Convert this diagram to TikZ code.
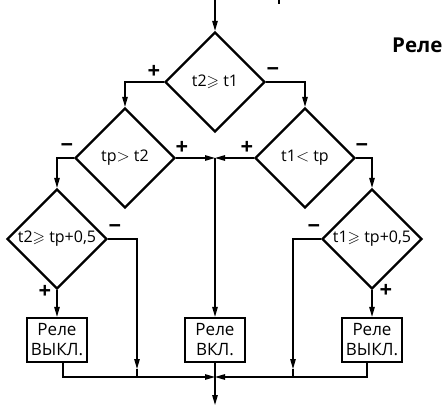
\documentclass[tikz,border=0pt]{standalone}
\usepackage{amssymb}
\usepackage{fontspec}
\setmainfont{Open Sans}
\usetikzlibrary{shapes.geometric,arrows.meta,calc}
\begin{document}
\begin{tikzpicture}[x=1pt,y=-1pt,
  dec/.style={diamond,draw,line width=2.3pt,minimum width=100pt,minimum height=100pt,inner sep=0pt,font=\fontsize{16}{17}\selectfont},
  relay/.style={draw,line width=2.3pt,minimum width=60pt,minimum height=44pt,inner sep=0pt,align=center,font=\fontsize{17}{20}\selectfont},
  conn/.style={line width=1.2pt},
  arr/.style={conn,-{Triangle[length=10pt,width=5.5pt]}},
  sign/.style={font=\bfseries\fontsize{22}{22}\selectfont,inner sep=0pt}]
\useasboundingbox (0,0) rectangle (446,406);
% decisions
\node[dec] (d1) at (215,82) {t2$\geqslant$ t1};
\node[dec] (d2) at (125,158) {tp$>$ t2};
\node[dec] (d3) at (305,158) {t1$<$ tp};
\node[dec] (d4) at (57,239) {t2$\geqslant$ tp+0,5};
\node[dec] (d5) at (372,239) {t1$\geqslant$ tp+0,5};
% relays
\node[relay] (b1) at (57,340) {Реле\\ВЫКЛ.};
\node[relay] (b2) at (215,340) {Реле\\ВКЛ.};
\node[relay] (b3) at (372,340) {Реле\\ВЫКЛ.};
% coordinates
\coordinate (top) at (215,0);
\coordinate (c) at (215,158);
\coordinate (m) at (215,377);
\coordinate (bot) at (215,405);
\coordinate (l1a) at (137,369);
\coordinate (l1) at (137,377);
\coordinate (r1a) at (293,369);
\coordinate (r1) at (293,377);
\coordinate (b1o) at ($(b1.south)+(6,0)$);
\coordinate (b3o) at ($(b3.south)+(-5,0)$);
% connectors
\draw[arr] (top) -- (d1.north);
\draw[arr] (d1.west) -| (d2.north);
\draw[arr] (d1.east) -| (d3.north);
\draw[arr] (d2.west) -| (d4.north);
\draw[arr] (d3.east) -| (d5.north);
\draw[arr] (d2.east) -- (c);
\draw[arr] (d3.west) -- (c);
\draw[arr] (c) -- (b2.north);
\draw[arr] (d4.south) -- (b1.north);
\draw[arr] (d5.south) -- (b3.north);
\draw[arr] (d4.east) -| (l1a);
\draw[conn] (l1a) -- (l1);
\draw[arr] (d5.west) -| (r1a);
\draw[conn] (r1a) -- (r1);
\draw[arr] (b1o) |- (m);
\draw[arr] (b3o) |- (m);
\draw[conn] (b2.south) -- (m);
\draw[arr] (m) -- (bot);
% signs
\node[sign] (s1) at (154,72) {+};
\node[sign] (s2) at (273,72) {−};
\node[sign] (s3) at (67,148) {−};
\node[sign] (s4) at (182,148) {+};
\node[sign] (s5) at (247,148) {+};
\node[sign] (s6) at (362,148) {−};
\node[sign] (s7) at (115,229) {−};
\node[sign] (s8) at (45,292) {+};
\node[sign] (s9) at (314,229) {−};
\node[sign] (s10) at (386,291) {+};
% clipped title and mark
\node[anchor=base west,inner sep=0pt,font=\bfseries\fontsize{20.5}{21}\selectfont] (title) at (392,53) {Реле};
\draw[line width=1.5pt] (279,0) -- (279,4);
\end{tikzpicture}
\end{document}
